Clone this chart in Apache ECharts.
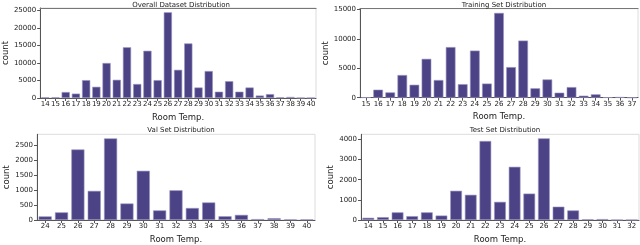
<!DOCTYPE html>
<html><head><meta charset="utf-8">
<script src="https://cdn.jsdelivr.net/npm/echarts@6/dist/echarts.min.js"></script>
<style>html,body{margin:0;padding:0;background:#fff}#c{width:640px;height:245px}</style>
</head><body><div id="c"></div>
<script>
const overallCats = [14,15,16,17,18,19,20,21,22,23,24,25,26,27,28,29,30,31,32,33,34,35,36,37,38,39,40];
const overallVals = [200,200,1700,1250,5100,3200,10000,5200,14500,4000,13500,5100,24500,8050,15600,3000,7700,1800,4800,1800,3000,700,1100,200,300,50,30];
const trainCats = [15,16,17,18,19,20,21,22,23,24,25,26,27,28,29,30,31,32,33,34,35,36,37];
const trainVals = [60,1360,900,3850,2200,6600,3000,8600,2300,8000,2400,14400,5200,9700,1600,3100,850,1800,340,570,60,100,20];
const valCats = [24,25,26,27,28,29,30,31,32,33,34,35,36,37,38,39,40];
const valVals = [120,255,2350,970,2720,550,1640,320,990,400,585,125,170,30,60,20,20];
const testCats = [14,15,16,17,18,19,20,21,22,23,24,25,26,27,28,29,30,31,32];
const testVals = [110,140,380,190,380,220,1450,1250,3920,900,2640,1310,4050,660,475,35,45,5,5];
const overallTicks = [0,5000,10000,15000,20000,25000];
const trainTicks = [0,5000,10000,15000];
const valTicks = [0,500,1000,1500,2000,2500];
const testTicks = [0,1000,2000,3000,4000];
const titles = ['Overall Dataset Distribution','Training Set Distribution','Val Set Distribution','Test Set Distribution'];

const FONT = 'DejaVu Sans';
const panels = [
  {cats: overallCats, vals: overallVals, ticks: overallTicks, grid:{left:36, top:8, width:280, height:90}, topLine:true},
  {cats: trainCats, vals: trainVals, ticks: trainTicks, grid:{left:360, top:8.7, width:278, height:89}, topLine:true},
  {cats: valCats, vals: valVals, ticks: valTicks, grid:{left:37, top:134.3, width:278, height:89.7}, topLine:false},
  {cats: testCats, vals: testVals, ticks: testTicks, grid:{left:361, top:134.3, width:278, height:89.7}, topLine:false}
];

const grid=[], xAxis=[], yAxis=[], series=[], title=[];
panels.forEach((p,i)=>{
  grid.push(Object.assign({show:true, borderColor:'#dcdcdc', borderWidth:1, backgroundColor:'#fff'}, p.grid));
  const xi = xAxis.length;
  xAxis.push({type:'category', gridIndex:i, data:p.cats.map(String),
    name:'Room Temp.', nameLocation:'middle', nameGap:15,
    nameTextStyle:{fontFamily:FONT, fontSize:8.5, color:'#222'},
    axisLine:{lineStyle:{color:'#555', width:1}},
    axisTick:{show:true, alignWithLabel:true, length:3, lineStyle:{color:'#555'}},
    axisLabel:{fontFamily:FONT, fontSize:7, color:'#222', margin:3, interval:0, hideOverlap:false},
    splitLine:{show:false}});
  const maxV = Math.max(...p.vals)*1.05;
  yAxis.push({type:'value', gridIndex:i, min:0, max:maxV,
    name:'count', nameLocation:'middle', nameGap:24, nameRotate:90,
    nameTextStyle:{fontFamily:FONT, fontSize:8.5, color:'#222'},
    axisLine:{show:true, lineStyle:{color:'#555', width:1}},
    axisTick:{show:true, length:3, lineStyle:{color:'#555'}, customValues:p.ticks},
    axisLabel:{fontFamily:FONT, fontSize:7, color:'#222', margin:4, customValues:p.ticks, formatter:v=>String(Math.round(v))},
    splitLine:{show:false}});
  series.push({type:'bar', xAxisIndex:xi, yAxisIndex:i, data:p.vals, barCategoryGap:'20%',
    itemStyle:{color:'#4b4385', borderColor:'#9a93c0', borderWidth:0.6}, silent:true});
  const cx = p.grid.left + p.grid.width/2;
  title.push({text:titles[i], left:cx, top: p.topLine ? -3 : 122, textAlign:'center',
    textStyle:{fontFamily:FONT, fontSize:7, fontWeight:'normal', color:'#222'}});
  if (p.topLine) {
    xAxis.push({type:'category', gridIndex:i, position:'top', data:p.cats.map(String),
      axisLine:{show:true, lineStyle:{color:'#777', width:1.2}}, axisTick:{show:false}, axisLabel:{show:false}, splitLine:{show:false}});
  }
});

const chart = echarts.init(document.getElementById('c'), null, {renderer:'canvas'});
chart.setOption({animation:false, backgroundColor:'#fff', title, grid, xAxis, yAxis, series});
</script></body></html>
